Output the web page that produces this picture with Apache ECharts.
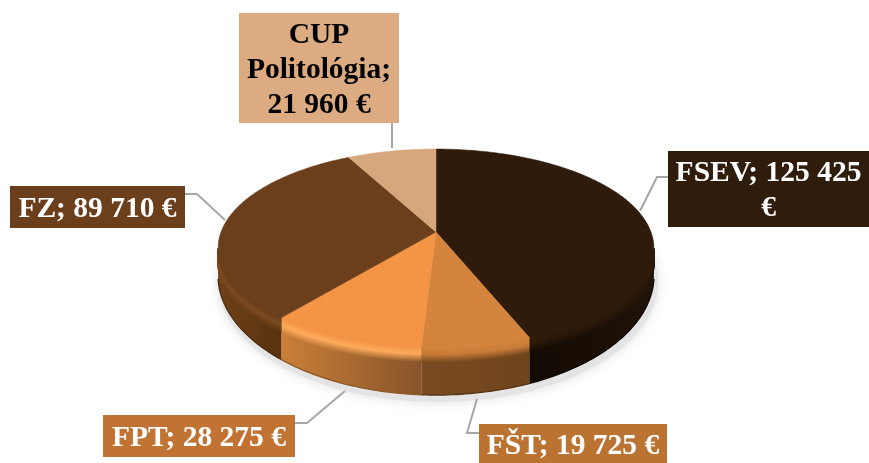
<!DOCTYPE html>
<html><head><meta charset="utf-8">
<style>html,body{margin:0;padding:0;background:#fff}#c{width:869px;height:463px}</style>
<script src="https://cdn.jsdelivr.net/npm/echarts@6/dist/echarts.min.js"></script>
</head><body><div id="c"></div>
<script>
const categories = ['FSEV', 'FŠT', 'FPT', 'FZ', 'CUP Politológia'];
const values = [125425, 19725, 28275, 89710, 21960];
const labels = ['FSEV; 125 425\n€', 'FŠT; 19 725 €', 'FPT; 28 275 €', 'FZ; 89 710 €', 'CUP\nPolitológia;\n21 960 €'];

const topColors = ['#2f1b0b', '#d4843c', '#f49545', '#6b3f1b', '#d6a67c'];
const highlightColors = ['#2a1809', '#c87c38', '#fdab5c', '#7a4a20', '#d6a67c'];
const wallColors = [['#120a03', '#20130a'], ['#7a4a20', '#70451c'], ['#cb7f38', '#87542a'], ['#6e4119', '#58330f'], ['#b88a60', '#b88a60']];
const labelBoxes = [[668, 151, 201, 76], [479, 424, 188, 40], [103, 415, 192, 42], [10, 186, 175, 42], [239, 13, 160, 110]];
const labelFill = ['#301c0b', '#bb7332', '#c07332', '#6b3e1c', '#dcab82'];
const labelText = ['#fff', '#fff', '#fff', '#fff', '#000'];
const leaders = [
  [[668, 177], [657, 177], [640, 211]],
  [[479, 433], [467, 433], [477, 399]],
  [[295, 423], [307, 423], [345, 391]],
  [[185, 194], [197, 194], [225, 220]],
  [[392, 123], [392, 148]]
];

const CX = 436, CY = 232, K = 215, M = 96.4, P = -0.162;
const BOT_CY = 275, BOT_RY = 120, RX = 218, BAND = 15;
const total = values.reduce((a, b) => a + b, 0);
const rad = d => d * Math.PI / 180;
function rim(deg) {
  const u = Math.sin(rad(deg)), v = -Math.cos(rad(deg)), d = 1 + P * v;
  return [CX + K * u / d, CY + M * v / d];
}
function bottomY(x) {
  const t = Math.min(1, Math.abs(x - CX) / RX);
  return BOT_CY + BOT_RY * Math.sqrt(1 - t * t);
}
function hex(c) { return [1, 3, 5].map(i => parseInt(c.substr(i, 2), 16)); }
function mix(a, b, t) {
  const A = hex(a), B = hex(b);
  return 'rgb(' + A.map((x, i) => Math.round(x + (B[i] - x) * t)).join(',') + ')';
}
function ramp(i, side, t) {
  const w = wallColors[i][side];
  if (t < 0.45) return mix(topColors[i], highlightColors[i], t / 0.45);
  return mix(highlightColors[i], w, (t - 0.45) / 0.55);
}
function hGrad(x0, x1, c0, c1) {
  return { type: 'linear', x: x0, y: 0, x2: x1, y2: 0, global: true,
    colorStops: [{ offset: 0, color: c0 }, { offset: 1, color: c1 }] };
}
function renderSlice(params, api) {
  const i = params.dataIndex;
  const start = values.slice(0, i).reduce((a, b) => a + b, 0) / total * 360;
  const end = start + api.value(1) / total * 360;
  const kids = [];
  const topPts = [[CX, CY]];
  for (let a = start; a < end; a += 1) topPts.push(rim(a));
  topPts.push(rim(end));

  const a0 = Math.max(start, 99.3), a1 = Math.min(end, 260.7);
  if (a1 > a0) {
    const front = [];
    for (let a = a0; a < a1; a += 1) front.push(rim(a));
    front.push(rim(a1));
    const bot = front.map(p => [p[0], bottomY(p[0])]);
    const xs = front.map(p => p[0]);
    const lx = Math.min(...xs), hx = Math.max(...xs);
    kids.push({ type: 'polygon', shape: { points: front.concat(bot.slice().reverse()) },
      style: { fill: hGrad(lx, hx, wallColors[i][0], wallColors[i][1]), stroke: null } });
    const steps = 20;
    for (let s = steps; s >= 0; s--) {
      const t = s / steps;
      const line = front.map((p, n) => [p[0], p[1] + t * Math.min(BAND, bot[n][1] - p[1])]);
      kids.push({ type: 'polyline', shape: { points: line },
        style: { fill: null, lineWidth: 1.6,
          stroke: hGrad(lx, hx, ramp(i, 0, t), ramp(i, 1, t)) } });
    }
    kids.push({ type: 'polyline', shape: { points: bot },
      style: { fill: null, lineWidth: 1.4, stroke: mix(wallColors[i][0], '#000000', 0.3) } });
  }
  kids.push({ type: 'polygon', shape: { points: topPts },
    style: { fill: topColors[i], stroke: topColors[i], lineWidth: 0.5 } });
  return { type: 'group', children: kids };
}
function renderLabel(params, api) {
  const i = params.dataIndex, b = labelBoxes[i];
  return { type: 'group', children: [
    { type: 'polyline', shape: { points: leaders[i] },
      style: { fill: null, stroke: '#a6a6a6', lineWidth: 2 } },
    { type: 'rect', shape: { x: b[0], y: b[1], width: b[2], height: b[3] },
      style: { fill: labelFill[i] } },
    { type: 'text', style: { x: b[0] + b[2] / 2, y: b[1] + b[3] / 2 + 2, text: labels[i], align: 'center',
      verticalAlign: 'middle', fill: labelText[i], lineHeight: 35,
      font: 'bold 29.5px "Liberation Serif"' } }
  ] };
}
function renderShadow() {
  return { type: 'ellipse', shape: { cx: 438, cy: 282, rx: 220, ry: 120 },
    style: { fill: '#e4e4e4', shadowBlur: 12, shadowColor: '#e0e0e0' } };
}
const rows = values.map((v, i) => [i, v, categories[i]]);
const chart = echarts.init(document.getElementById('c'), null, { renderer: 'canvas' });
chart.setOption({
  animation: false,
  backgroundColor: '#fff',
  series: [
    { type: 'custom', coordinateSystem: 'none', silent: true, z: 1, data: [[0]], renderItem: renderShadow },
    { type: 'custom', coordinateSystem: 'none', silent: true, z: 2, data: rows, encode: { value: 1, itemName: 2 }, renderItem: renderSlice },
    { type: 'custom', coordinateSystem: 'none', silent: true, z: 3, data: rows, renderItem: renderLabel }
  ]
});
</script></body></html>
